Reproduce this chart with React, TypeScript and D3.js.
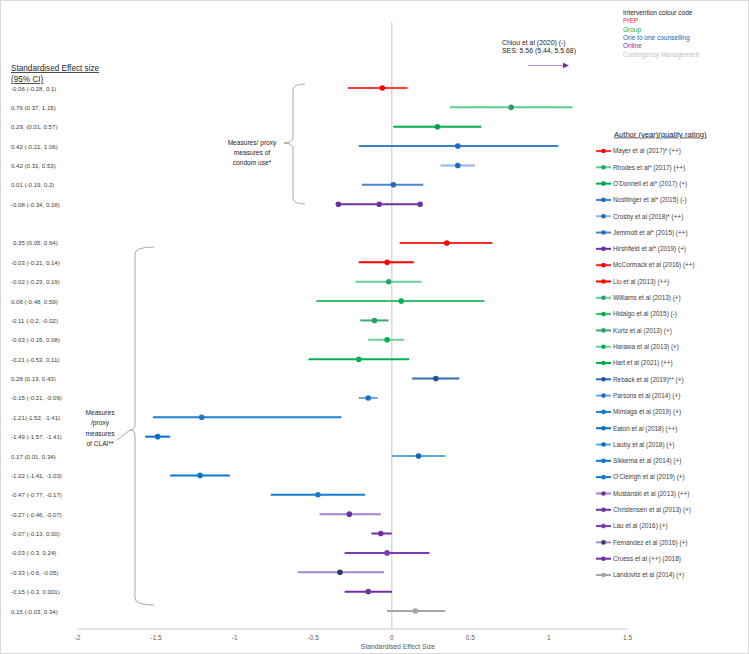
import React, { useEffect, useRef } from "react";
import * as d3 from "d3";

// studies, top to bottom (first 7 = condom use, rest = CLAI)
const authors = [
  "Mayer et al (2017)* (++)",
  "Rhodes et al* (2017) (++)",
  "O'Donnell et al* (2017) (+)",
  "Nostlinger et al* (2015) (-)",
  "Crosby et al (2018)* (++)",
  "Jemmott et al* (2015) (++)",
  "Hirshfield et al* (2019) (+)",
  "McCormack et al (2016) (++)",
  "Liu et al (2013) (++)",
  "Williams et al (2013) (+)",
  "Hidalgo et al (2015) (-)",
  "Kurtz et al (2013) (+)",
  "Harawa et al (2013) (+)",
  "Hart et al (2021) (++)",
  "Reback et al (2019)** (+)",
  "Parsons et al (2014) (+)",
  "Mimiaga et al (2019) (+)",
  "Eaton et al (2018) (++)",
  "Lauby et al (2018) (+)",
  "Sikkema et al (2014) (+)",
  "O'Cleirigh et al (2019) (+)",
  "Mustanski et al (2013) (++)",
  "Christensen et al (2013) (+)",
  "Lau et al (2016) (+)",
  "Fernandez et al (2016) (+)",
  "Cruess et al (++) (2018)",
  "Landovitz et al (2014) (+)",
];

const esLabels = [
  "-0.06 (-0.28, 0.1)",
  "0.76 (0.37, 1.15)",
  "0.29, (0.01, 0.57)",
  "0.42 (-0.21, 1.06)",
  "0.42 (0.31, 0.53)",
  "0.01 (-0.19, 0.2)",
  "-0.08 (-0.34, 0.18)",
  "0.35 (0.05, 0.64)",
  "-0.03 (-0.21, 0.14)",
  "-0.02 (-0.23, 0.19)",
  "0.06 (-0.48, 0.59)",
  "-0.11 (-0.2, -0.02)",
  "-0.03 (-0.15, 0.08)",
  "-0.21 (-0.53, 0.11)",
  "0.28 (0.13, 0.43)",
  "-0.15 (-0.21, -0.09)",
  "-1.21(-1.52, -1.41)",
  "-1.49 (-1.57, -1.41)",
  "0.17 (0.01, 0.34)",
  "-1.22 (-1.41, -1.03)",
  "-0.47 (-0.77, -0.17)",
  "-0.27 (-0.46, -0.07)",
  "-0.07 (-0.13, 0.00)",
  "-0.03 (-0.3, 0.24)",
  "-0.33 (-0.6, -0.05)",
  "-0.15 (-0.3, 0.001)",
  "0.15 (-0.03, 0.34)",
];

const effect = [-0.06, 0.76, 0.29, 0.42, 0.42, 0.01, -0.08, 0.35, -0.03, -0.02, 0.06, -0.11, -0.03, -0.21, 0.28, -0.15, -1.21, -1.49, 0.17, -1.22, -0.47, -0.27, -0.07, -0.03, -0.33, -0.15, 0.15];
const ciLow = [-0.28, 0.37, 0.01, -0.21, 0.31, -0.19, -0.34, 0.05, -0.21, -0.23, -0.48, -0.2, -0.15, -0.53, 0.13, -0.21, -1.52, -1.57, 0.0, -1.41, -0.77, -0.46, -0.13, -0.3, -0.6, -0.3, -0.03];
const ciHigh = [0.1, 1.15, 0.57, 1.06, 0.53, 0.2, 0.18, 0.64, 0.14, 0.19, 0.59, -0.02, 0.08, 0.11, 0.43, -0.09, -0.32, -1.41, 0.34, -1.03, -0.17, -0.07, 0.0, 0.24, -0.05, 0.001, 0.34];

const interventions = ["PrEP", "Group", "One to one counselling", "Online", "Contingency Management"];
const xTicks = [-2, -1.5, -1, -0.5, 0, 0.5, 1, 1.5];

// colours per row (line, dot)
const lineColours = ["#ff3b3b", "#5ccf8c", "#00b050", "#3a7fd0", "#8fb4e3", "#4a86d0", "#7030a0", "#ff2a2a", "#ff0000", "#66d095", "#3cc070", "#3aaa6a", "#6fd096", "#00b050", "#2e6db4", "#6aa5dc", "#1f7fd0", "#0a70c8", "#5ba8e0", "#0a78d0", "#1a7ad0", "#a77fd3", "#7030a0", "#7a3cb0", "#a58ad0", "#7030a0", "#a6a6a6"];
const dotColours = ["#ff0000", "#2e9e66", "#00a04a", "#1f6fc5", "#1a6fc4", "#2a6ab8", "#7030a0", "#ff0000", "#ff0000", "#2a9d7a", "#00b050", "#2e9e66", "#00b050", "#00b050", "#1f5599", "#1a6fc4", "#1f78c8", "#0a70c8", "#0a6bb8", "#0a78d0", "#1a7ad0", "#7030a0", "#7030a0", "#7a3cb0", "#2f3a6b", "#7030a0", "#a6a6a6"];
const interventionColours = ["#ff3030", "#00b050", "#0070c0", "#7030a0", "#bfbfbf"];

const FONT = "'Liberation Sans', Arial, sans-serif";

export default function App() {
  const svgRef = useRef<SVGSVGElement>(null);

  useEffect(() => {
    const svg = d3.select(svgRef.current);
    svg.selectAll("*").remove();
    svg.style("font-family", FONT);

    const x = d3.scaleLinear().domain([-2, 1.5]).range([77.5, 627.5]);
    const y = d3.scaleLinear().domain([0, 27]).range([88, 611]);
    const slot = (i: number) => (i < 7 ? i : i + 1);
    const yl = d3.scaleLinear().domain([0, 26]).range([151, 575]);

    // frame
    svg.append("rect")
      .attr("x", 0.5).attr("y", 0.5).attr("width", 748).attr("height", 653)
      .attr("fill", "white").attr("stroke", "#d9d9d9");

    // zero line
    svg.append("line")
      .attr("x1", x(0)).attr("x2", x(0)).attr("y1", 22).attr("y2", 629)
      .attr("stroke", "#d9d9d9").attr("stroke-width", 1.5);

    // x axis
    svg.append("line")
      .attr("x1", x(-2)).attr("x2", x(1.5)).attr("y1", 629).attr("y2", 629)
      .attr("stroke", "#d9d9d9").attr("stroke-width", 1.5);
    svg.selectAll(".tick")
      .data(xTicks).enter().append("text")
      .attr("x", (d) => x(d)).attr("y", 640)
      .attr("text-anchor", "middle")
      .style("font-size", "6.5px").style("fill", "#595959")
      .text((d) => d);
    svg.append("text")
      .attr("x", 398).attr("y", 648.5).attr("text-anchor", "middle")
      .style("font-size", "6.8px").style("fill", "#595959")
      .text("Standardised Effect Size");

    // error bars
    const rows = svg.selectAll(".row").data(effect).enter().append("g");
    rows.append("line")
      .attr("x1", (d, i) => x(ciLow[i])).attr("x2", (d, i) => x(ciHigh[i]))
      .attr("y1", (d, i) => y(slot(i))).attr("y2", (d, i) => y(slot(i)))
      .attr("stroke", (d, i) => lineColours[i]).attr("stroke-width", 2);
    rows.append("circle")
      .attr("cx", (d) => x(d)).attr("cy", (d, i) => y(slot(i)))
      .attr("r", 2.8).attr("fill", (d, i) => dotColours[i]);
    // Hirshfield row has markers at both CI ends
    [ciLow[6], ciHigh[6]].forEach((v) => {
      svg.append("circle").attr("cx", x(v)).attr("cy", y(6)).attr("r", 2.8).attr("fill", dotColours[6]);
    });

    // left column
    svg.append("text").attr("x", 11).attr("y", 71)
      .style("font-size", "8.2px").style("fill", "#262626").style("text-decoration", "underline")
      .text("Standardised Effect size");
    svg.append("text").attr("x", 11).attr("y", 82)
      .style("font-size", "8.2px").style("fill", "#262626").style("text-decoration", "underline")
      .text("(95% CI)");
    svg.selectAll(".es").data(esLabels).enter().append("text")
      .attr("x", (d, i) => (i === 7 ? 13 : 11)).attr("y", (d, i) => y(slot(i)) + 2.5)
      .style("font-size", "6.1px").style("fill", "#404040")
      .text((d) => d);

    // braces
    const brace = "#a6a6a6";
    svg.append("path")
      .attr("d", "M305,84 Q293,84 293,90 L293,137 Q293,143 284,143 Q293,143 293,149 L293,198 Q293,204 305,204")
      .attr("fill", "none").attr("stroke", brace).attr("stroke-width", 1);
    ["Measures/ proxy", "measures of", "condom use*"].forEach((t, i) => {
      svg.append("text").attr("x", 252).attr("y", 144.5 + i * 10.3)
        .attr("text-anchor", "middle").style("font-size", "6.6px").style("fill", "#262626").text(t);
    });
    svg.append("path")
      .attr("d", "M154,247 Q135,247 135,254 L135,424 Q135,430 130,430 Q135,430 135,436 L135,598 Q135,605 154,605")
      .attr("fill", "none").attr("stroke", brace).attr("stroke-width", 1);
    svg.append("line").attr("x1", 117).attr("y1", 440).attr("x2", 130).attr("y2", 430)
      .attr("stroke", brace).attr("stroke-width", 1);
    ["Measures", "/proxy", "measures", "of CLAI**"].forEach((t, i) => {
      svg.append("text").attr("x", 100).attr("y", 415 + i * 10.3)
        .attr("text-anchor", "middle").style("font-size", "6.6px").style("fill", "#262626").text(t);
    });

    // Chiou (off scale)
    svg.append("text").attr("x", 502).attr("y", 44.5)
      .style("font-size", "6.9px").style("fill", "#262626").text("Chiou et al (2020) (-)");
    svg.append("text").attr("x", 502).attr("y", 53)
      .style("font-size", "6.9px").style("fill", "#262626").text("SES: 5.56 (5.44, 5.5.68)");
    svg.append("line").attr("x1", 528).attr("x2", 564).attr("y1", 65.5).attr("y2", 65.5)
      .attr("stroke", "#b995dc").attr("stroke-width", 1);
    svg.append("path").attr("d", "M563,62.8 L569,65.5 L563,68.2 Z").attr("fill", "#7030a0");

    // intervention colour code
    svg.append("text").attr("x", 623).attr("y", 15)
      .style("font-size", "6.5px").style("fill", "#262626").text("Intervention colour code");
    svg.selectAll(".iv").data(interventions).enter().append("text")
      .attr("x", 623).attr("y", (d, i) => 23.3 + i * 8.35)
      .style("font-size", "6.5px").style("fill", (d, i) => interventionColours[i])
      .text((d) => d);

    // author legend
    svg.append("text").attr("x", 614).attr("y", 136.5)
      .style("font-size", "7.6px").style("fill", "#262626").style("text-decoration", "underline")
      .text("Author (year)(quality rating)");
    const leg = svg.selectAll(".leg").data(authors).enter().append("g")
      .attr("transform", (d, i) => `translate(0, ${yl(i)})`);
    leg.append("line").attr("x1", 596).attr("x2", 611).attr("y1", 0).attr("y2", 0)
      .attr("stroke", (d, i) => lineColours[i]).attr("stroke-width", 2);
    leg.append("circle").attr("cx", 603.5).attr("cy", 0).attr("r", 2.3)
      .attr("fill", (d, i) => dotColours[i]);
    leg.append("text").attr("x", 613).attr("y", 2.3)
      .style("font-size", "6.4px").style("fill", "#404040")
      .text((d) => d);
  }, []);

  return (
    <svg
      ref={svgRef}
      width={749}
      height={654}
      style={{ position: "absolute", left: 0, top: 0, background: "white" }}
    ></svg>
  );
}
